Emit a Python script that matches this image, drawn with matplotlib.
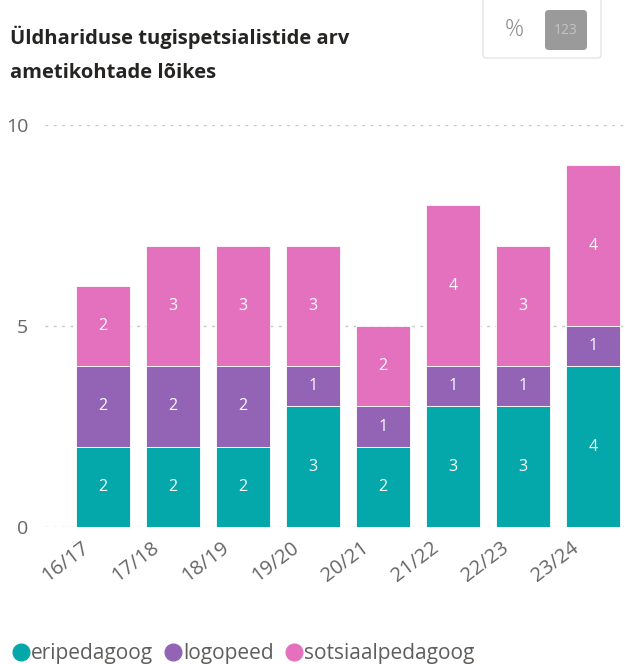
import matplotlib
matplotlib.use("Agg")
import matplotlib.pyplot as plt
from matplotlib.patches import FancyBboxPatch
from matplotlib.lines import Line2D
from matplotlib.transforms import ScaledTranslation

plt.rcParams['font.family'] = ['Open Sans', 'DejaVu Sans']

# andmed
aastad = ["16/17", "17/18", "18/19", "19/20", "20/21", "21/22", "22/23", "23/24"]
eripedagoog = [2, 2, 2, 3, 2, 3, 3, 4]
logopeed = [2, 2, 2, 1, 1, 1, 1, 1]
sotsiaalpedagoog = [2, 3, 3, 3, 2, 4, 3, 4]

sarjad = ["eripedagoog", "logopeed", "sotsiaalpedagoog"]
varvid = ["#04A8AA", "#9363B6", "#E371BD"]

fig = plt.figure(figsize=(6.25, 6.64), dpi=100)
ax = fig.add_axes([0.072, 0.2063, 0.928, 0.6054])

x = list(range(len(aastad)))
alus = [0] * len(aastad)
for nimi, vaartused, varv in zip(sarjad, [eripedagoog, logopeed, sotsiaalpedagoog], varvid):
    bars = ax.bar(x, vaartused, bottom=alus, width=0.77, color=varv,
                  edgecolor="white", linewidth=0.6, zorder=2)
    for b, v in zip(bars, vaartused):
        ax.text(b.get_x() + b.get_width() / 2, b.get_y() + b.get_height() / 2,
                str(v), ha="center", va="center", color="white", fontsize=11.5, zorder=3)
    alus = [a + v for a, v in zip(alus, vaartused)]

ax.set_xlim(-0.83, 7.46)
ax.set_ylim(0, 10)
ax.set_yticks([0, 5, 10])
ax.yaxis.grid(True, linestyle=(0, (2, 4)), color="#c8c8c8", linewidth=1, zorder=0)
ax.set_axisbelow(True)
for s in ax.spines.values():
    s.set_visible(False)
ax.tick_params(axis="both", length=0, colors="#666666", labelsize=14)
ax.tick_params(axis="y", pad=12)
ax.set_xticks(x)
ax.set_xticklabels(aastad, rotation=37, ha="right", rotation_mode="anchor", fontsize=14.5)
ax.tick_params(axis="x", pad=8)
nihe = ScaledTranslation(-0.22, 0, fig.dpi_scale_trans)
for lbl in ax.get_xticklabels():
    lbl.set_transform(lbl.get_transform() + nihe)

# pealkiri
fig.text(0.016, 1 - 44 / 664, "Üldhariduse tugispetsialistide arv",
         ha="left", va="baseline", fontsize=14.5, fontweight="bold", color="#252423")
fig.text(0.016, 1 - 78 / 664, "ametikohtade lõikes",
         ha="left", va="baseline", fontsize=14.5, fontweight="bold", color="#252423")

# nupud paremal üleval
nupp = FancyBboxPatch((483 / 625, 1 - 58 / 664), 118 / 625, 70 / 664,
                      boxstyle="round,pad=0,rounding_size=0.005",
                      transform=fig.transFigure, facecolor="white",
                      edgecolor="#e4e4e4", linewidth=1)
fig.add_artist(nupp)
fig.text(514 / 625, 1 - 30 / 664, "%", ha="center", va="center",
         fontsize=17, color="#8a8a8a", fontweight="light")
hall = FancyBboxPatch((545 / 625, 1 - 50 / 664), 42 / 625, 40 / 664,
                      boxstyle="round,pad=0,rounding_size=0.006",
                      transform=fig.transFigure, facecolor="#9a9a9a",
                      edgecolor="none")
fig.add_artist(hall)
fig.text(566 / 625, 1 - 30 / 664, "123", ha="center", va="center",
         fontsize=10, color="#c4c4c4")

# legend
kasitsi = [Line2D([0], [0], marker="o", linestyle="none", markersize=12,
                  markerfacecolor=c, markeredgecolor=c) for c in varvid]
fig.legend(kasitsi, sarjad, loc="lower left", bbox_to_anchor=(-0.012, -0.028),
           ncol=3, frameon=False, fontsize=15, handletextpad=0.05,
           columnspacing=0.5, labelcolor="#605e5c", handlelength=0.9)

fig.savefig("out.png", dpi=100)
